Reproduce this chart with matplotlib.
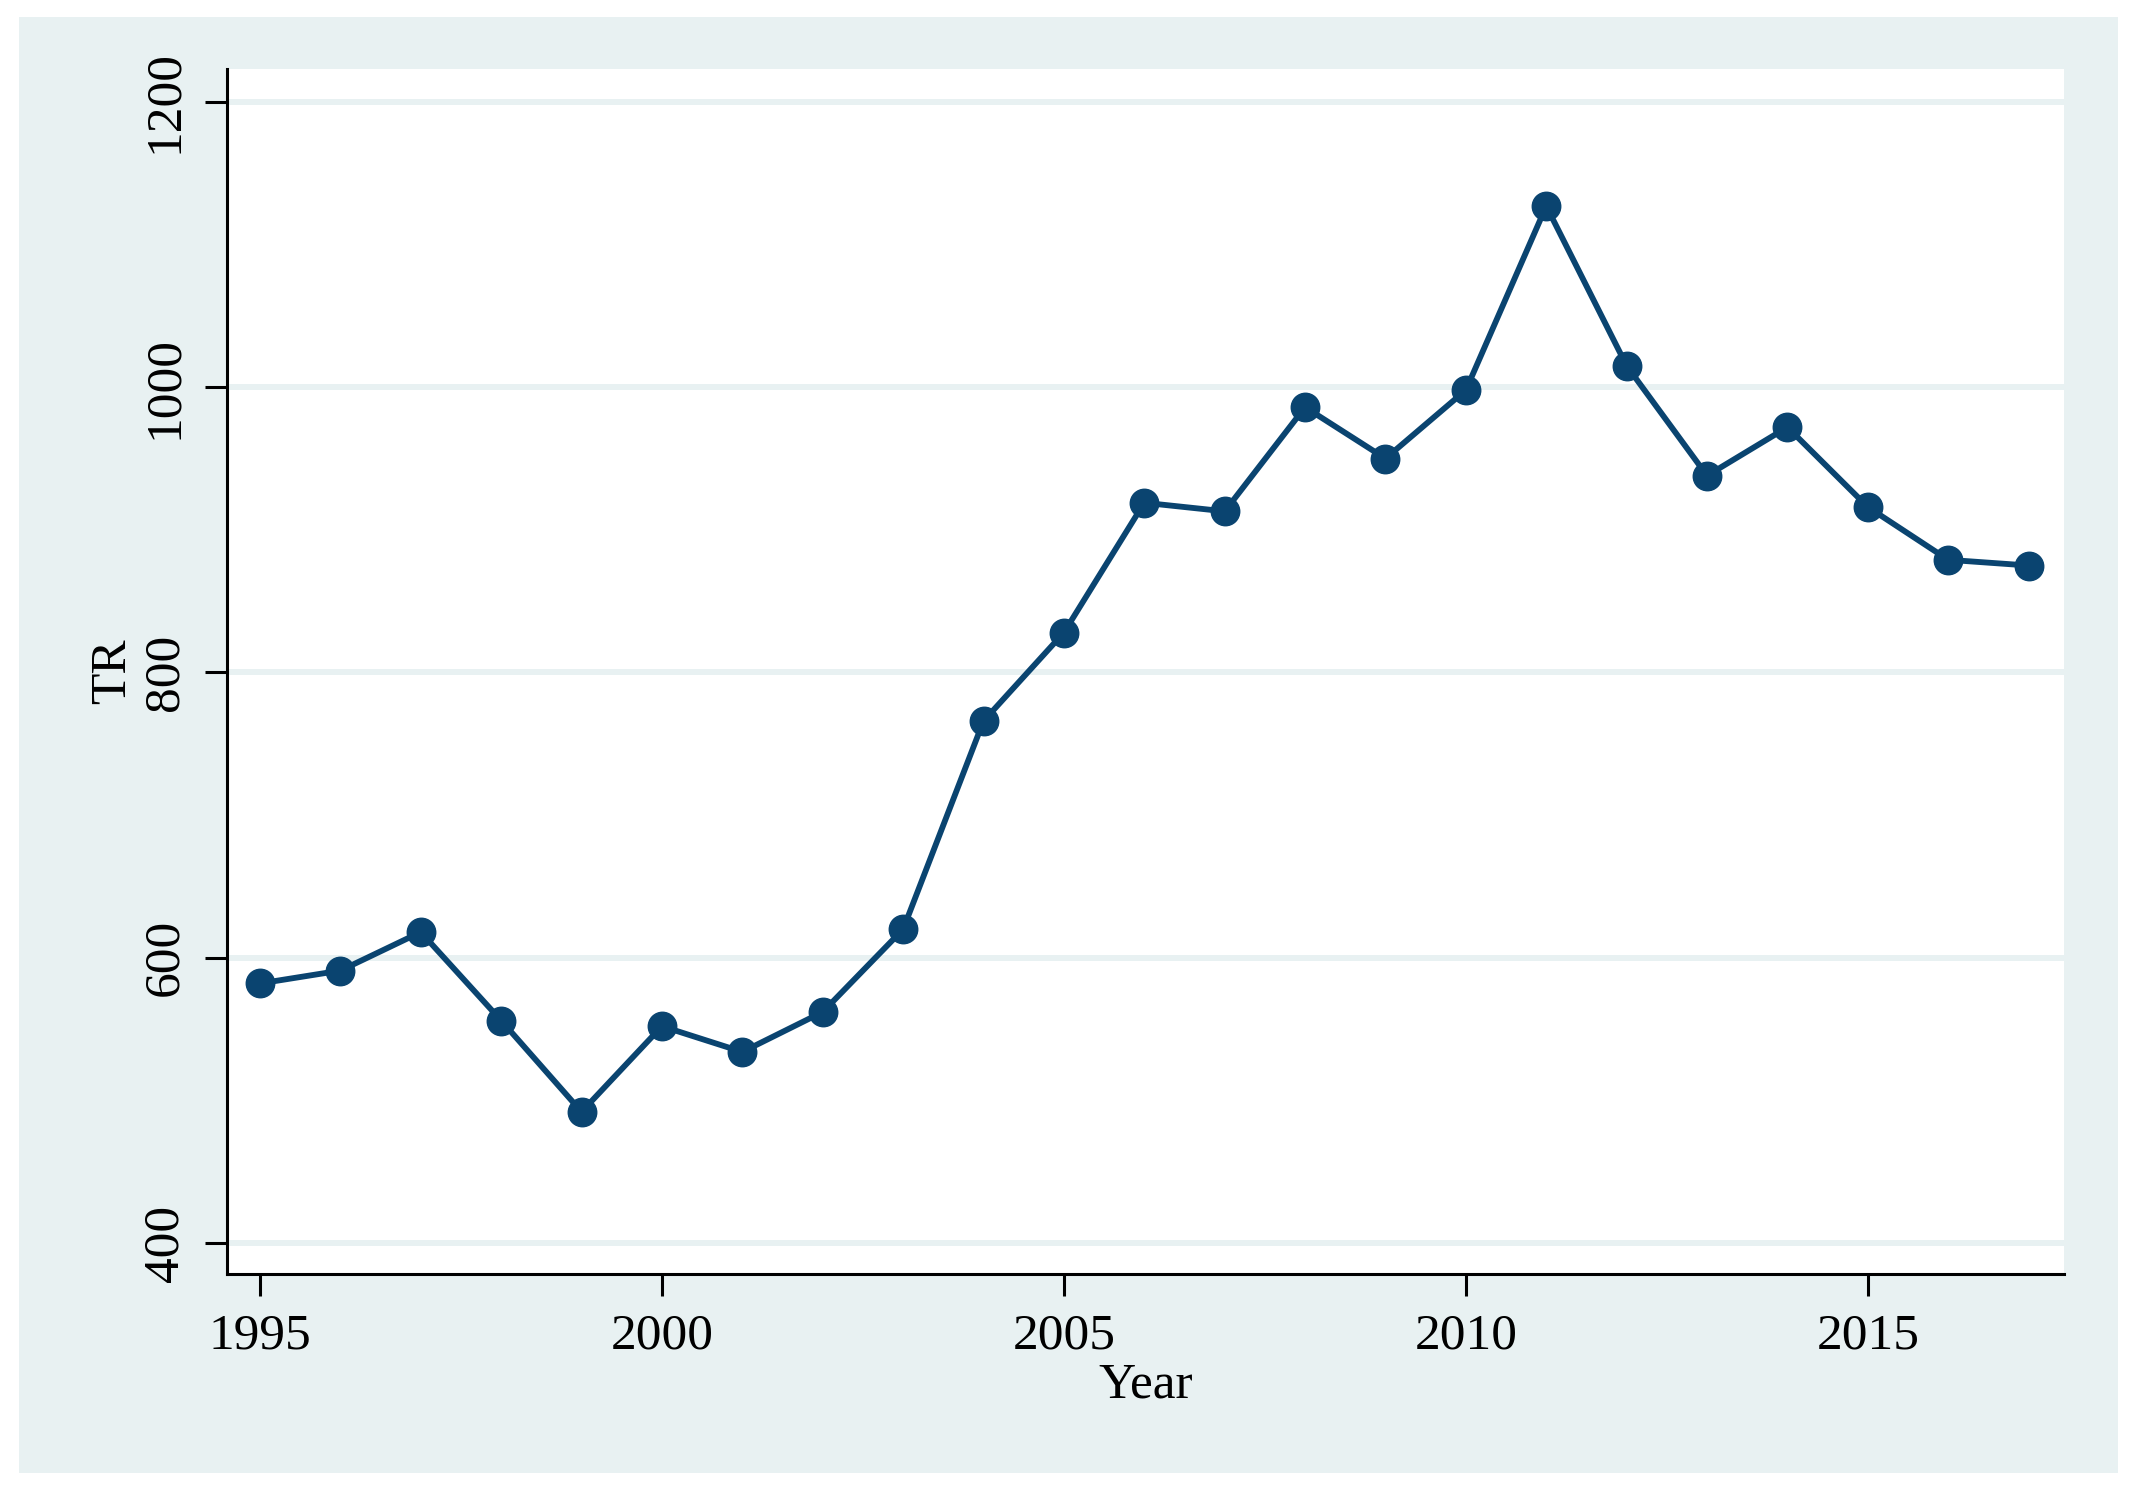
import matplotlib
matplotlib.use("Agg")
import matplotlib.pyplot as plt
from matplotlib.patches import Rectangle

# values
years = [1995, 1996, 1997, 1998, 1999, 2000, 2001, 2002, 2003, 2004, 2005, 2006,
         2007, 2008, 2009, 2010, 2011, 2012, 2013, 2014, 2015, 2016, 2017]
tr = [582, 591, 618, 556, 492, 552, 534, 562, 620, 766, 828, 919,
      913, 986, 950, 998, 1127, 1015, 938, 972, 916, 879, 875]
x_ticks = [1995, 2000, 2005, 2010, 2015]
y_ticks = [400, 600, 800, 1000, 1200]

BG = "#E8F1F2"
NAVY = "#0A4470"

plt.rcParams["font.family"] = ["Liberation Serif", "DejaVu Serif"]

fig = plt.figure(figsize=(21.33, 14.88), dpi=100, facecolor="white")
# stata-like outer graph region
fig.patches.append(Rectangle((19 / 2133, 1 - 1473 / 1488), (2118 - 19) / 2133,
                             (1473 - 17) / 1488, transform=fig.transFigure,
                             facecolor=BG, edgecolor="none", zorder=-10))

ax = fig.add_axes([227 / 2133, 1 - 1274 / 1488, (2064 - 227) / 2133,
                   (1274 - 69) / 1488])
ax.set_facecolor("white")

for v in y_ticks:
    ax.axhline(v, color=BG, lw=4.3, zorder=1)

ax.plot(years, tr, color=NAVY, lw=4.2, marker="o", markersize=20.5,
        zorder=3)

ax.set_xlim(1994.59, 2017.44)
ax.set_ylim(378.3, 1223.1)
ax.set_xticks(x_ticks)
ax.set_yticks(y_ticks)
ax.set_yticklabels([str(v) for v in y_ticks], rotation=90, va="center")

for side in ["top", "right"]:
    ax.spines[side].set_visible(False)
for side in ["left", "bottom"]:
    ax.spines[side].set_linewidth(2.2)

ax.tick_params(axis="both", length=16, width=2.2, labelsize=37, pad=12)
ax.set_xlabel("Year", fontsize=37, labelpad=2)
ax.set_ylabel("TR", fontsize=37, labelpad=4)

fig.savefig("out.png", dpi=100, facecolor="white")
